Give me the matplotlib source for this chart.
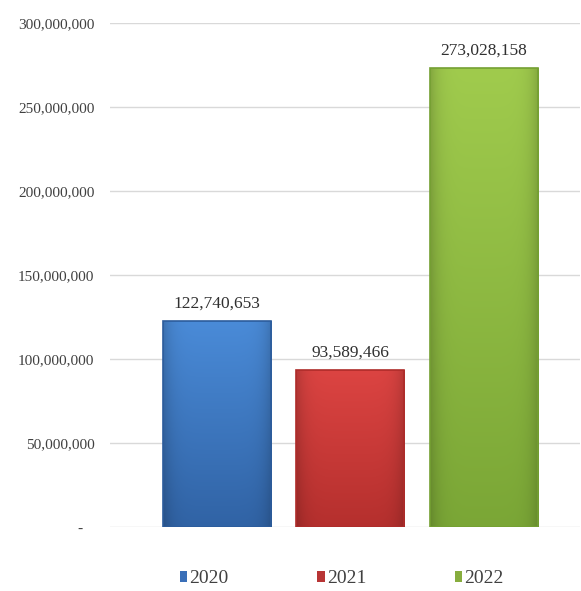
import numpy as np
import matplotlib
matplotlib.use("Agg")
import matplotlib.pyplot as plt
from matplotlib.colors import LinearSegmentedColormap
from matplotlib.ticker import FuncFormatter
from matplotlib.patches import Patch

# yearly totals
years = ["2020", "2021", "2022"]
totals = [122740653, 93589466, 273028158]

# top / bottom shades for each bar's gradient
top_colors = ["#4a8bd8", "#dc4442", "#a0cb4d"]
bottom_colors = ["#2c5c9c", "#ae2c2a", "#74a032"]
legend_colors = ["#3a6fb8", "#b83535", "#87ad3e"]

plt.rcParams["font.family"] = ["Liberation Serif", "DejaVu Serif"]

fig = plt.figure(figsize=(5.81, 5.91), dpi=100)
ax = fig.add_axes([0.189, 0.108, 0.809, 0.853])

x = np.arange(len(years))
width = 0.81
bars = ax.bar(x, totals, width=width, color="none", edgecolor="none", zorder=3)

# fill each bar with a vertical gradient, slightly darker at the sides
for bar, c_top, c_bot in zip(bars, top_colors, bottom_colors):
    x0, y0 = bar.get_x(), bar.get_y()
    w, h = bar.get_width(), bar.get_height()
    cmap = LinearSegmentedColormap.from_list("g", [c_bot, c_top])
    vert = np.linspace(0, 1, 200)[:, None]
    horiz = 1 - 0.18 * np.abs(np.linspace(-1, 1, 100))[None, :] ** 6
    grad = vert * 0.85 + 0.15
    rgb = cmap(grad * np.ones((1, 100)))[..., :3] * horiz[..., None]
    im = ax.imshow(rgb, extent=[x0, x0 + w, y0, y0 + h], origin="lower",
                   aspect="auto", zorder=3, interpolation="bilinear")
    im.set_clip_path(bar)
    ax.add_patch(plt.Rectangle((x0, y0), w, h, fill=False,
                               edgecolor=c_bot, linewidth=1.2, zorder=4))

for xi, v in zip(x, totals):
    ax.annotate(f"{v:,}", (xi, v), xytext=(0, 7), textcoords="offset points",
                ha="center", va="bottom", fontsize=12.5, color="#303030")

ax.set_xlim(-0.80, 2.72)
ax.set_ylim(0, 300000000)
ax.set_yticks(np.arange(0, 300000001, 50000000))
ax.yaxis.set_major_formatter(FuncFormatter(lambda v, p: "-   " if v == 0 else f"{int(v):,}"))
ax.tick_params(axis="y", length=0, pad=11, labelsize=11, labelcolor="#404040")
ax.set_xticks([])
ax.grid(axis="y", color="#d9d9d9", linewidth=1.0, zorder=0)
for s in ax.spines.values():
    s.set_visible(False)

handles = [Patch(facecolor=c, edgecolor="none") for c in legend_colors]
leg = fig.legend(handles, years, loc="center", bbox_to_anchor=(0.588, 0.021),
                 ncol=3, frameon=False, fontsize=14, handlelength=0.4,
                 handleheight=0.5, handletextpad=0.1, columnspacing=4.55)
for t in leg.get_texts():
    t.set_color("#404040")

fig.savefig("out.png", dpi=100)
